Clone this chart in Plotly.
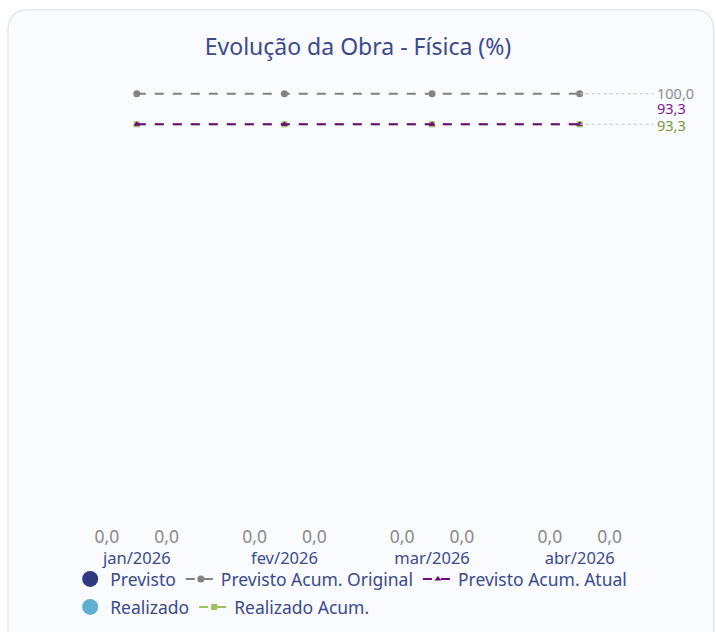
import plotly.graph_objects as go

months = ["jan/2026", "fev/2026", "mar/2026", "abr/2026"]
previsto = [0.0, 0.0, 0.0, 0.0]
realizado = [0.0, 0.0, 0.0, 0.0]
previsto_acum_original = [100.0, 100.0, 100.0, 100.0]
previsto_acum_atual = [93.3, 93.3, 93.3, 93.3]
realizado_acum = [93.3, 93.3, 93.3, 93.3]

NAVY = "#3b4a8c"
C_PREV = "#2f3a84"
C_REAL = "#62afd4"
C_ORIG = "#808580"
C_ATUAL = "#6b0a7d"
C_RACUM = "#9dbf5c"
FONT = "Noto Sans"

def fmt(v):
    return f"{v:.1f}".replace(".", ",")

fig = go.Figure()

for name, vals, col in [("Previsto", previsto, C_PREV), ("Realizado", realizado, C_REAL)]:
    fig.add_trace(go.Bar(x=months, y=vals, name=name, marker=dict(color=col, line=dict(width=0)),
                         text=[fmt(v) for v in vals], textposition="outside",
                         textfont=dict(color="#8a8a8a", size=17.5), cliponaxis=False,
                         showlegend=False))

fig.add_trace(go.Scatter(x=months, y=realizado_acum, name="Realizado Acum.", mode="lines+markers",
                         line=dict(color=C_RACUM, width=2, dash="dash"),
                         marker=dict(symbol="square", size=6, color=C_RACUM),
                         legend="legend2", legendrank=2))
fig.add_trace(go.Scatter(x=months, y=previsto_acum_original, name="Previsto Acum. Original",
                         mode="lines+markers", line=dict(color=C_ORIG, width=2, dash="dash"),
                         marker=dict(symbol="circle", size=7, color=C_ORIG),
                         legend="legend", legendrank=2))
fig.add_trace(go.Scatter(x=months, y=previsto_acum_atual, name="Previsto Acum. Atual",
                         mode="lines+markers", line=dict(color=C_ATUAL, width=2, dash="dash"),
                         marker=dict(symbol="triangle-up", size=6, color=C_ATUAL),
                         legend="legend", legendrank=3))

# legend-only circle entries for the bar series
fig.add_trace(go.Scatter(x=[None], y=[None], name="Previsto", mode="markers",
                         marker=dict(symbol="circle", size=16, color=C_PREV),
                         legend="legend", legendrank=1))
fig.add_trace(go.Scatter(x=[None], y=[None], name="Realizado", mode="markers",
                         marker=dict(symbol="circle", size=16, color=C_REAL),
                         legend="legend2", legendrank=1))

# card background (rounded rectangle)
fig.add_shape(type="path", xref="paper", yref="paper", layer="below",
              path="M -0.093,-0.175 L -0.093,1.08 Q -0.093,1.123 -0.058,1.123 L 1.067,1.123 "
                   "Q 1.101,1.123 1.101,1.08 L 1.101,-0.175 Z",
              fillcolor="#f9fbfe", line=dict(color="#e2e7f1", width=1.5))

last = len(months) - 1
for vals, col, ys in [(previsto_acum_original, "#8c8c8c", 1),
                      (previsto_acum_atual, "#7a1a8a", 16),
                      (realizado_acum, "#76983f", -1)]:
    if ys != 16:
        fig.add_shape(type="line", x0=last, x1=last + 0.5, y0=vals[last], y1=vals[last],
                      xref="x", yref="y", line=dict(color="#c4c4c4", width=1, dash="dot"))
    fig.add_annotation(x=1, xref="paper", xanchor="left", y=vals[last], yref="y",
                       text=fmt(vals[last]), showarrow=False, xshift=1, yshift=ys,
                       font=dict(color=col, size=14.5, family=FONT))

leg_common = dict(orientation="h", xref="container", yref="container",
                  yanchor="middle", xanchor="left", font=dict(size=17.5, color=NAVY),
                  bgcolor="rgba(0,0,0,0)", itemsizing="trace")

fig.update_layout(
    width=716, height=632,
    margin=dict(l=63, r=62, t=69, b=81, autoexpand=False),
    paper_bgcolor="white", plot_bgcolor="rgba(0,0,0,0)",
    font=dict(family=FONT, color=NAVY),
    title=dict(text="Evolução da Obra - Física (%)", x=0.5, xanchor="center",
               y=1 - 47 / 632, yanchor="middle", font=dict(size=23, color=NAVY)),
    barmode="group", bargap=0.19, bargroupgap=0,
    xaxis=dict(showgrid=False, showline=False, zeroline=False, ticks="",
               tickfont=dict(size=16.5, color=NAVY), ticklabelstandoff=-5),
    yaxis=dict(range=[0, 105.4], visible=False, showgrid=False, zeroline=False),
    legend=dict(x=0.098, y=1 - 579 / 632, **leg_common),
    legend2=dict(x=0.098, y=1 - 607 / 632, **leg_common),
)

fig.write_html("out.html", config={"displayModeBar": False},
               post_script="document.body.style.margin='0';document.body.style.overflow='hidden';")
